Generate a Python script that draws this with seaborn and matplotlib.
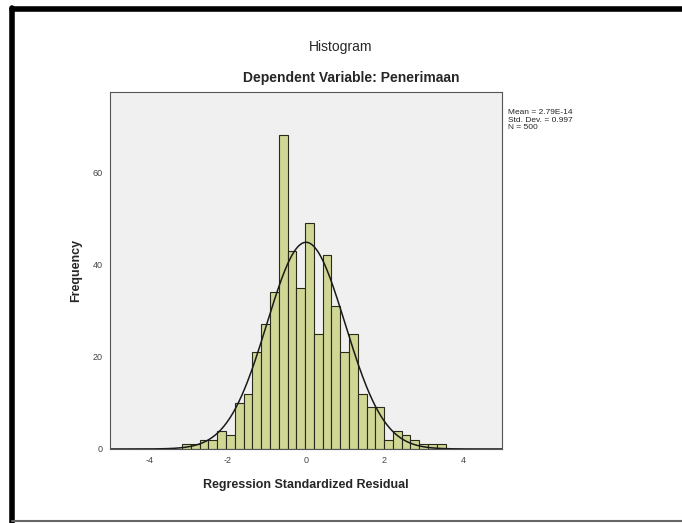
# Recreate SPSS style residual histogram
import numpy as np
import pandas as pd
import matplotlib.pyplot as plt
import seaborn as sns
from matplotlib.lines import Line2D

# Values
counts = [1, 1, 2, 2, 4, 3, 10, 12, 21, 27, 34, 68, 43, 35, 49,
          25, 42, 31, 21, 25, 12, 9, 9, 2, 4, 3, 2, 1, 1, 1]
bin_start = -3.16
bin_width = 0.224
mean_val = 2.79e-14
sd_val = 0.997
n_val = 500
x_ticks = [-4, -2, 0, 2, 4]
y_ticks = [0, 20, 40, 60]

edges = bin_start + bin_width * np.arange(len(counts) + 1)
centers = (edges[:-1] + edges[1:]) / 2
df = pd.DataFrame({'residual': centers, 'freq': counts})

sns.set_style('white')
plt.rcParams['font.family'] = ['Liberation Sans', 'DejaVu Sans']
plt.rcParams['axes.unicode_minus'] = False

fig = plt.figure(figsize=(6.82, 5.23), dpi=100)
ax = fig.add_axes([0.1613, 0.1415, 0.5748, 0.6826])
ax.set_facecolor('#F0F0F0')

sns.histplot(data=df, x='residual', weights='freq', binwidth=bin_width,
             binrange=(edges[0], edges[-1]), ax=ax,
             color='#D0D694', alpha=1, edgecolor='#2a2a1a', linewidth=0.8)

# normal curve scaled to counts
xs = np.linspace(-5, 5, 400)
ys = n_val * bin_width / (sd_val * np.sqrt(2 * np.pi)) * np.exp(-0.5 * ((xs - mean_val) / sd_val) ** 2)
ax.plot(xs, ys, color='#1a1a1a', linewidth=1.1)

ax.set_xlim(-5, 5)
ax.set_ylim(0, 77.4)
ax.set_xticks(x_ticks)
ax.set_yticks(y_ticks)
ax.tick_params(axis='both', direction='out', length=4, width=0.8, labelsize=6.5,
               colors='#444444', pad=1)
for s in ax.spines.values():
    s.set_color('#555555')
    s.set_linewidth(0.8)

ax.set_xlabel('Regression Standardized Residual', fontsize=9, fontweight='bold', labelpad=10)
ax.set_ylabel('Frequency', fontsize=9, fontweight='bold', labelpad=8)

fig.text(0.5, 0.91, 'Histogram', ha='center', va='center', fontsize=10)
fig.text(0.515, 0.851, 'Dependent Variable: Penerimaan', ha='center', va='center',
         fontsize=10, fontweight='bold')
fig.text(0.745, 0.792, 'Mean = 2.79E-14\nStd. Dev. = 0.997\nN = 500',
         ha='left', va='top', fontsize=6, linespacing=1.15)

# frame around the screenshot
fig.add_artist(Line2D([0.017, 1.0], [0.983, 0.983], color='black', linewidth=4))
fig.add_artist(Line2D([0.018, 0.018], [0.0, 0.985], color='black', linewidth=4))
fig.add_artist(Line2D([0.017, 1.0], [0.003, 0.003], color='#666666', linewidth=1.5))

fig.savefig('out.png', dpi=100)
